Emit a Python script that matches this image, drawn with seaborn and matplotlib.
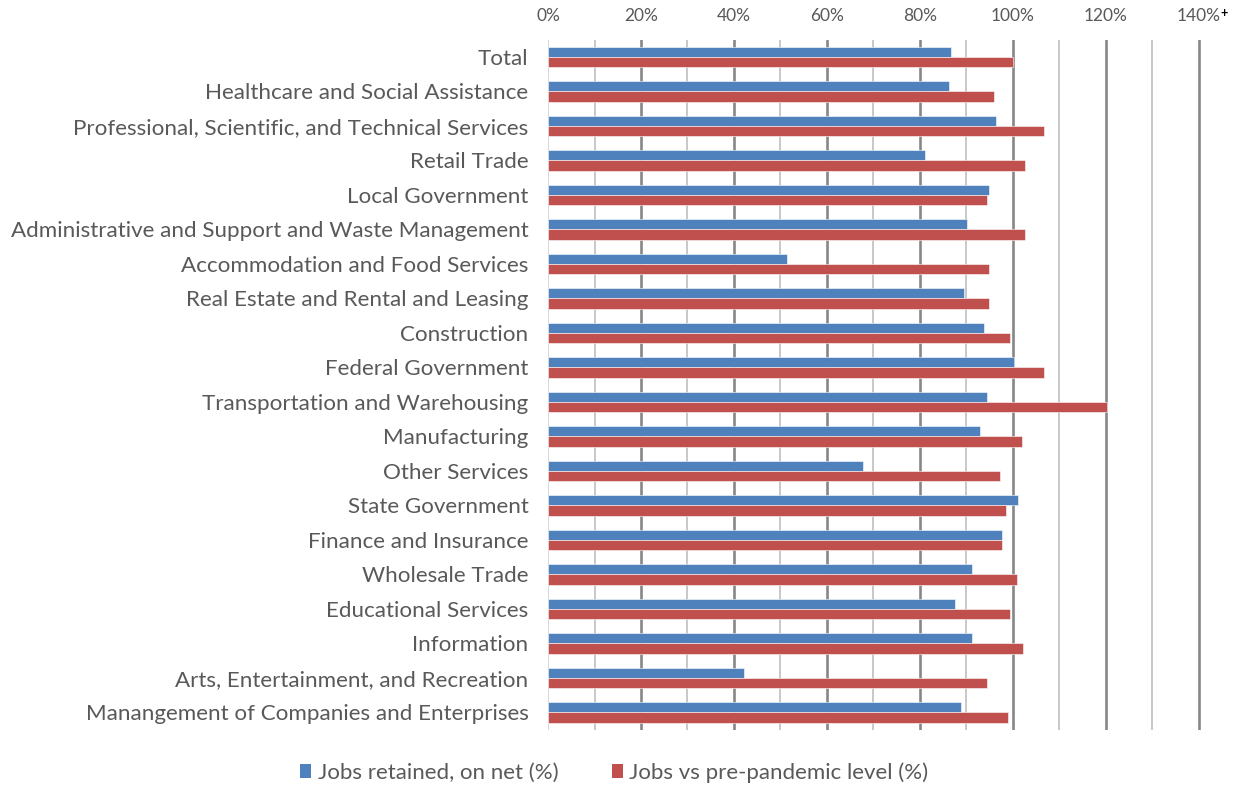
import matplotlib
matplotlib.use("Agg")
import matplotlib.pyplot as plt
from matplotlib.patches import Patch
import numpy as np
import pandas as pd
import seaborn as sns

# Industries, top to bottom
industries = [
    "Total",
    "Healthcare and Social Assistance",
    "Professional, Scientific, and Technical Services",
    "Retail Trade",
    "Local Government",
    "Administrative and Support and Waste Management",
    "Accommodation and Food Services",
    "Real Estate and Rental and Leasing",
    "Construction",
    "Federal Government",
    "Transportation and Warehousing",
    "Manufacturing",
    "Other Services",
    "State Government",
    "Finance and Insurance",
    "Wholesale Trade",
    "Educational Services",
    "Information",
    "Arts, Entertainment, and Recreation",
    "Manangement of Companies and Enterprises",
]

# Share of jobs retained, on net (fraction)
jobs_retained = [
    0.866, 0.862, 0.963, 0.810, 0.948, 0.901, 0.513, 0.895, 0.938, 1.002,
    0.944, 0.930, 0.677, 1.012, 0.976, 0.911, 0.876, 0.911, 0.422, 0.889,
]

# Jobs compared with pre-pandemic level (fraction)
jobs_vs_prepandemic = [
    1.000, 0.960, 1.068, 1.026, 0.944, 1.026, 0.948, 0.948, 0.993, 1.068,
    1.203, 1.020, 0.973, 0.986, 0.976, 1.009, 0.993, 1.022, 0.944, 0.990,
]

series_names = ["Jobs retained, on net (%)", "Jobs vs pre-pandemic level (%)"]
series_colors = ["#4F81BD", "#C0504D"]

tick_values = [0.0, 0.2, 0.4, 0.6, 0.8, 1.0, 1.2, 1.4]
tick_labels = ["0%", "20%", "40%", "60%", "80%", "100%", "120%", "140%"]
minor_values = [0.1, 0.3, 0.5, 0.7, 0.9, 1.1, 1.3]

df = pd.DataFrame({
    "industry": industries * 2,
    "value": jobs_retained + jobs_vs_prepandemic,
    "series": [series_names[0]] * len(industries) + [series_names[1]] * len(industries),
})

sns.set_theme(style="white")
plt.rcParams["font.family"] = ["Lato", "DejaVu Sans"]

text_gray = "#595959"

fig = plt.figure(figsize=(12.36, 7.85), dpi=100)
ax = fig.add_axes([0.4434, 0.0705, 0.5566, 0.879])

sns.barplot(
    data=df, x="value", y="industry", hue="series",
    hue_order=series_names, palette=series_colors,
    orient="h", width=0.6, dodge=True, ax=ax,
    edgecolor="white", linewidth=0.4, saturation=1, legend=False,
)

ax.set_xlim(0, 1.48)
ax.set_xlabel("")
ax.set_ylabel("")

# Percent scale along the top
ax.xaxis.tick_top()
ax.set_xticks(tick_values)
ax.set_xticklabels(tick_labels)
ax.set_xticks(minor_values, minor=True)
ax.tick_params(axis="x", which="both", length=0, pad=11,
               labelsize=12.5, labelcolor=text_gray)
ax.tick_params(axis="y", length=0, pad=14, labelsize=16.1, labelcolor=text_gray)

ax.set_axisbelow(True)
ax.grid(axis="x", which="major", color="#878787", linewidth=1.9)
ax.grid(axis="x", which="minor", color="#C4C4C4", linewidth=1.3)
ax.grid(axis="y", visible=False)
ax.xaxis.get_gridlines()[0].set_color("#D0D0D0")
ax.xaxis.get_gridlines()[0].set_linewidth(1.2)

for side in ["top", "right", "bottom", "left"]:
    ax.spines[side].set_visible(False)

ax.annotate("+", xy=(1.4, 1.0), xycoords=ax.get_xaxis_transform(),
            xytext=(18, 19), textcoords="offset points",
            fontsize=9, fontweight="bold", color="black",
            ha="center", va="center", annotation_clip=False)

handles = [Patch(facecolor=c, edgecolor="none") for c in series_colors]
fig.legend(handles, series_names, loc="center", bbox_to_anchor=(0.497, 0.016),
           ncol=2, frameon=False, fontsize=16, labelcolor=text_gray,
           handlelength=0.5, handleheight=0.65, handletextpad=0.3,
           columnspacing=2.4)

fig.savefig("out.png", dpi=100)
